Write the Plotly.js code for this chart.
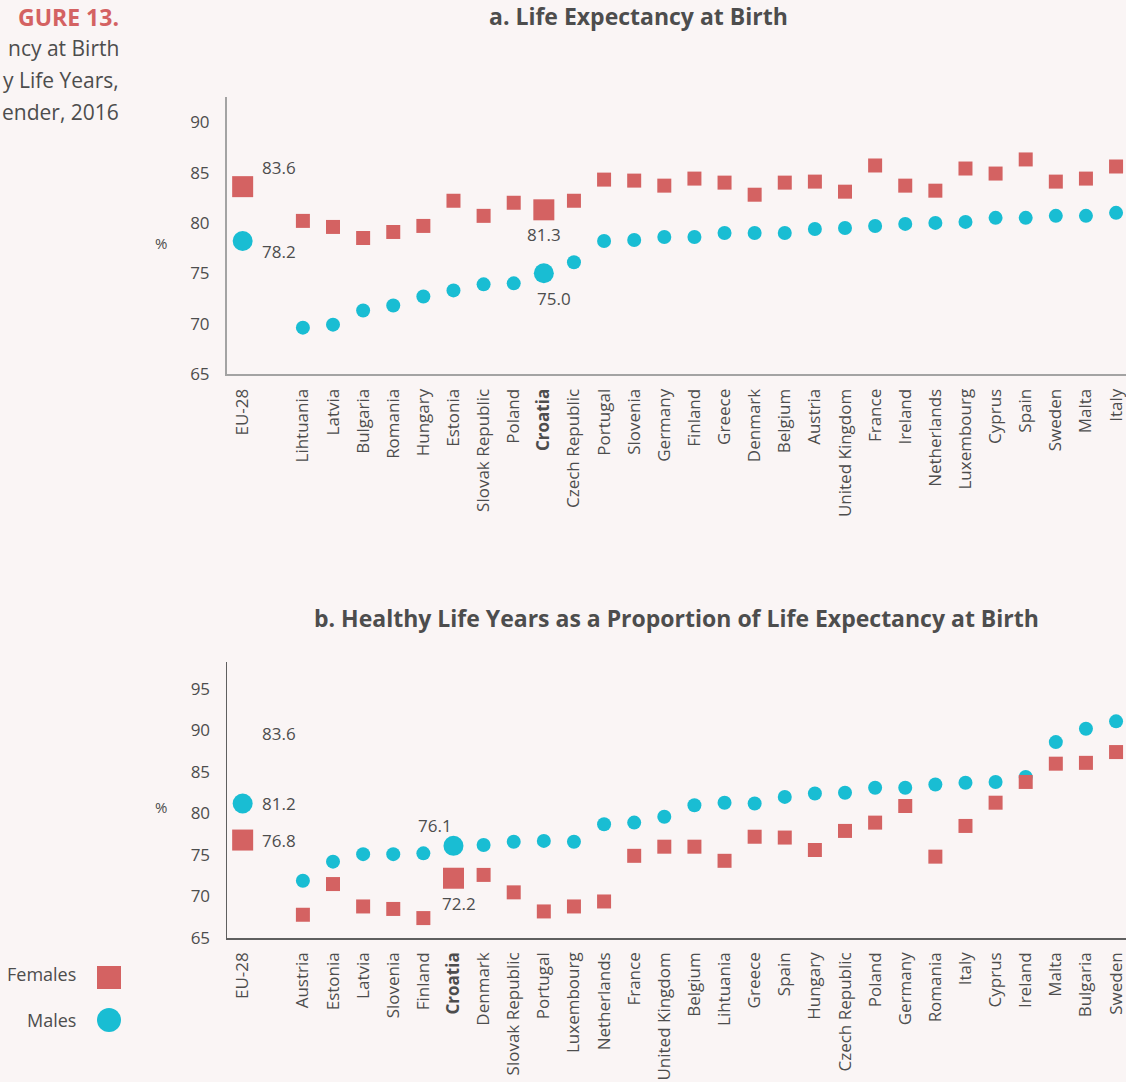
<!DOCTYPE html>
<html>
<head>
<meta charset="utf-8">
<script src="https://cdn.plot.ly/plotly-3.0.1.min.js"></script>
<style>
html,body{margin:0;padding:0;background:#faf5f5;}
#chart{width:1126px;height:1082px;}
</style>
</head>
<body>
<div id="chart"></div>
<script>
// ---------- DATA ----------
// Panel a: Life Expectancy at Birth
var categoriesA = ['EU-28','Lihtuania','Latvia','Bulgaria','Romania','Hungary','Estonia','Slovak Republic','Poland','Croatia','Czech Republic','Portugal','Slovenia','Germany','Finland','Greece','Denmark','Belgium','Austria','United Kingdom','France','Ireland','Netherlands','Luxembourg','Cyprus','Spain','Sweden','Malta','Italy'];
var femalesA = [83.6,80.2,79.6,78.5,79.1,79.7,82.2,80.7,82.0,81.3,82.2,84.3,84.2,83.7,84.4,84.0,82.8,84.0,84.1,83.1,85.7,83.7,83.2,85.4,84.9,86.3,84.1,84.4,85.6];
var malesA   = [78.2,69.6,69.9,71.3,71.8,72.7,73.3,73.9,74.0,75.0,76.1,78.2,78.3,78.6,78.6,79.0,79.0,79.0,79.4,79.5,79.7,79.9,80.0,80.1,80.5,80.5,80.7,80.7,81.0];

// Panel b: Healthy Life Years as a Proportion of Life Expectancy at Birth
var categoriesB = ['EU-28','Austria','Estonia','Latvia','Slovenia','Finland','Croatia','Denmark','Slovak Republic','Portugal','Luxembourg','Netherlands','France','United Kingdom','Belgium','Lihtuania','Greece','Spain','Hungary','Czech Republic','Poland','Germany','Romania','Italy','Cyprus','Ireland','Malta','Bulgaria','Sweden'];
var femalesB = [76.8,67.8,71.5,68.8,68.5,67.4,72.2,72.6,70.5,68.2,68.8,69.4,74.9,76.0,76.0,74.3,77.2,77.1,75.6,77.9,78.9,80.9,74.8,78.5,81.3,83.8,86.0,86.1,87.4];
var malesB   = [81.2,71.9,74.2,75.1,75.1,75.2,76.1,76.2,76.6,76.7,76.6,78.7,78.9,79.6,81.0,81.3,81.2,82.0,82.4,82.5,83.1,83.1,83.5,83.7,83.8,84.4,88.6,90.2,91.1];

var yTicksA = [65,70,75,80,85,90];
var yTicksB = [65,70,75,80,85,90,95];
var highlighted = ['EU-28','Croatia'];
var strayLabelB = '83.6';

// ---------- STYLE ----------
var W = 1126, H = 1082;
var RED = '#d46262', CYAN = '#19bdd3', TXT = '#4d4d4d';
var FONT = 'Open Sans, sans-serif';
function px(x){return x/W;}
function py(y){return 1-y/H;}

// slot position: EU-28 first, then a gap slot, then countries
function slots(cats){ return cats.map(function(c,i){return i===0?0:i+1;}); }
function tickText(cats){ return cats.map(function(c){return c==='Croatia'?'<b>Croatia</b>':c;}); }
function sizes(cats,big,small){ return cats.map(function(c){return highlighted.indexOf(c)>=0?big:small;}); }

var xA = slots(categoriesA), xB = slots(categoriesB);

var traces = [
  {x:xA, y:malesA, type:'scatter', mode:'markers', xaxis:'x', yaxis:'y', name:'Males',
   marker:{symbol:'circle', color:CYAN, opacity:1, size:sizes(categoriesA,20,14), line:{width:0}}, hoverinfo:'y'},
  {x:xA, y:femalesA, type:'scatter', mode:'markers', xaxis:'x', yaxis:'y', name:'Females',
   marker:{symbol:'square', color:RED, opacity:1, size:sizes(categoriesA,21,14), line:{width:0}}, hoverinfo:'y'},
  {x:xB, y:malesB, type:'scatter', mode:'markers', xaxis:'x2', yaxis:'y2', name:'Males',
   marker:{symbol:'circle', color:CYAN, opacity:1, size:sizes(categoriesB,20,14), line:{width:0}}, hoverinfo:'y'},
  {x:xB, y:femalesB, type:'scatter', mode:'markers', xaxis:'x2', yaxis:'y2', name:'Females',
   marker:{symbol:'square', color:RED, opacity:1, size:sizes(categoriesB,21,14), line:{width:0}}, hoverinfo:'y'}
];

function xaxisDef(cats, lineColor, lineWidth){
  return {
    domain:[px(227),1], range:[-0.52, cats.length+0.33],
    tickmode:'array', tickvals:slots(cats), ticktext:tickText(cats),
    tickangle:-90, tickfont:{family:FONT,size:17,color:TXT},
    ticklabeloverflow:'allow',
    ticks:'outside', ticklen:6, tickcolor:'rgba(0,0,0,0)',
    showline:true, linecolor:lineColor, linewidth:lineWidth,
    showgrid:false, zeroline:false, fixedrange:true
  };
}
function yaxisDef(dom, range, ticks, lineColor, lineWidth, xref){
  return {
    domain:dom, range:range, tickmode:'array', tickvals:ticks,
    tickfont:{family:FONT,size:17,color:TXT},
    ticks:'outside', ticklen:12, tickcolor:'rgba(0,0,0,0)',
    showline:true, linecolor:lineColor, linewidth:lineWidth,
    showgrid:false, zeroline:false, fixedrange:true, anchor:xref
  };
}

var iEUa = categoriesA.indexOf('EU-28'), iHRa = categoriesA.indexOf('Croatia');
var iEUb = categoriesB.indexOf('EU-28'), iHRb = categoriesB.indexOf('Croatia');
var lblFont = {family:FONT,size:17,color:TXT};
function lbl(xr,yr,x,y,text,xanchor,xshift,yshift){
  return {xref:xr,yref:yr,x:x,y:y,text:text,showarrow:false,xanchor:xanchor,yanchor:'middle',xshift:xshift,yshift:yshift,font:lblFont};
}
function paperText(x,y,text,xanchor,size,color){
  return {xref:'paper',yref:'paper',x:px(x),y:py(y),text:text,showarrow:false,xanchor:xanchor,yanchor:'middle',font:{family:FONT,size:size,color:color}};
}

var annotations = [
  // data labels panel a
  lbl('x','y',xA[iEUa],femalesA[iEUa],femalesA[iEUa].toFixed(1),'left',17,19),
  lbl('x','y',xA[iEUa],malesA[iEUa],malesA[iEUa].toFixed(1),'left',17,-10),
  lbl('x','y',xA[iHRa],femalesA[iHRa],femalesA[iHRa].toFixed(1),'center',0,-25),
  lbl('x','y',xA[iHRa],malesA[iHRa],malesA[iHRa].toFixed(1),'center',10,-25),
  // data labels panel b
  lbl('x2','y2',xB[iEUb],malesB[iEUb],strayLabelB,'left',17,70),
  lbl('x2','y2',xB[iEUb],malesB[iEUb],malesB[iEUb].toFixed(1),'left',17,0),
  lbl('x2','y2',xB[iEUb],femalesB[iEUb],femalesB[iEUb].toFixed(1),'left',17,0),
  lbl('x2','y2',xB[iHRb],malesB[iHRb],malesB[iHRb].toFixed(1),'center',-18,20),
  lbl('x2','y2',xB[iHRb],femalesB[iHRb],femalesB[iHRb].toFixed(1),'center',6,-25),
  // panel titles
  paperText(638,16,'<b>a. Life Expectancy at Birth</b>','center',23,TXT),
  paperText(676,618,'<b>b. Healthy Life Years as a Proportion of Life Expectancy at Birth</b>','center',23,TXT),
  // y-axis unit labels
  paperText(161,243,'%','center',15,TXT),
  paperText(161,807,'%','center',15,TXT),
  // figure caption (top-left)
  paperText(121,17,'<b>GURE 13.</b>','right',23,RED),
  paperText(121,48,'ncy at Birth','right',21,TXT),
  paperText(121,80,'y Life Years,','right',21,TXT),
  paperText(121,112,'ender, 2016','right',21,TXT),
  // legend texts
  paperText(78,974,'Females','right',18,TXT),
  paperText(78,1020,'Males','right',18,TXT)
];

var shapes = [
  {type:'rect',xref:'paper',yref:'paper',x0:px(97),x1:px(121),y0:py(989),y1:py(966),fillcolor:RED,line:{width:0}},
  {type:'circle',xref:'paper',yref:'paper',x0:px(97),x1:px(121),y0:py(1032),y1:py(1008),fillcolor:CYAN,line:{width:0}}
];

var layout = {
  width:W, height:H,
  margin:{l:0,r:0,t:0,b:0,pad:0},
  paper_bgcolor:'#faf5f5', plot_bgcolor:'#faf5f5',
  showlegend:false,
  font:{family:FONT,color:TXT},
  xaxis: Object.assign(xaxisDef(categoriesA,'#a3a3a3',2),{anchor:'y'}),
  yaxis: yaxisDef([py(374),py(97)],[65,92.5],yTicksA,'#a3a3a3',2,'x'),
  xaxis2: Object.assign(xaxisDef(categoriesB,'#5f5f5f',1.5),{anchor:'y2'}),
  yaxis2: yaxisDef([py(938),py(662)],[65,98.25],yTicksB,'#5f5f5f',1.5,'x2'),
  annotations:annotations,
  shapes:shapes
};

Plotly.newPlot('chart', traces, layout, {displayModeBar:false, staticPlot:true});
</script>
</body>
</html>
